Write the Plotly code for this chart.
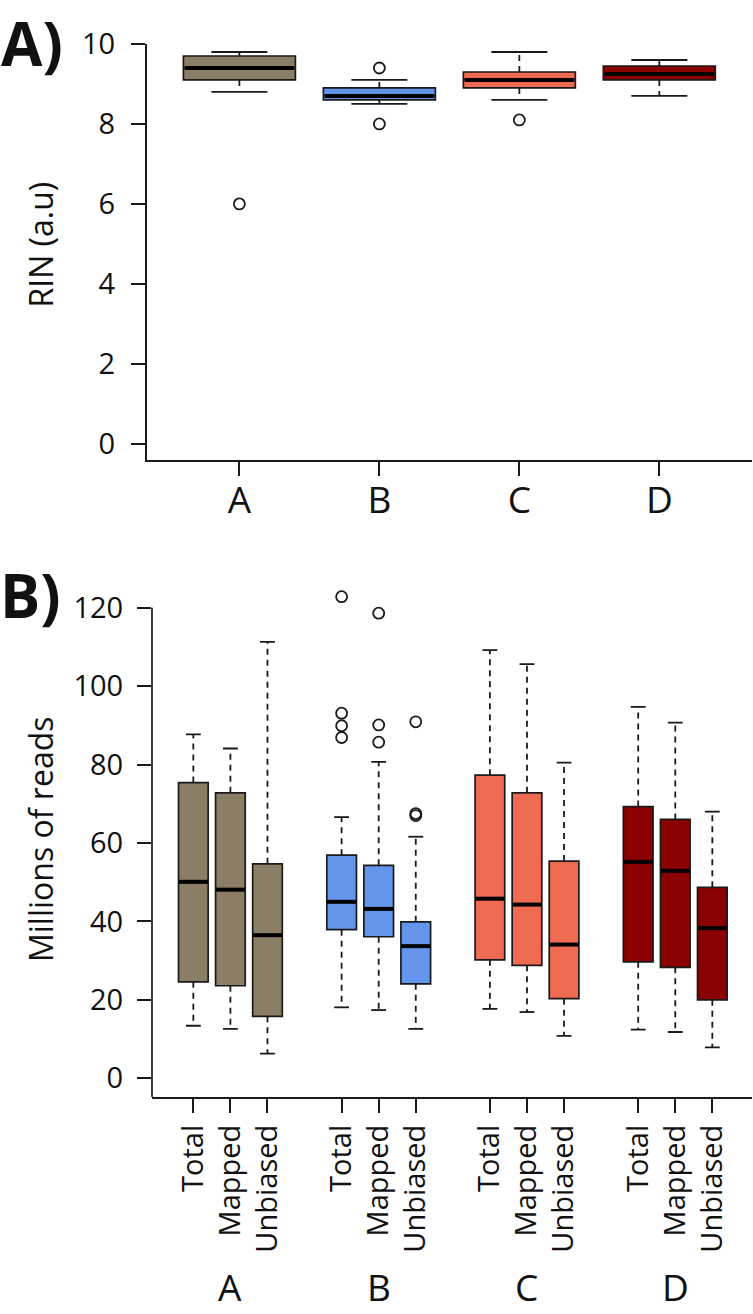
import plotly.graph_objects as go

# ---------------- data ----------------
groups = ["A", "B", "C", "D"]
colors = ["#8B7E66", "#6495ED", "#EE6A50", "#8B0000"]

# Panel A: RIN (a.u)
rin_low = [8.8, 8.5, 8.6, 8.7]
rin_q1 = [9.1, 8.6, 8.9, 9.1]
rin_med = [9.4, 8.7, 9.1, 9.25]
rin_q3 = [9.7, 8.9, 9.3, 9.45]
rin_high = [9.8, 9.1, 9.8, 9.6]
rin_outliers = [[6.0], [9.4, 8.0], [8.1], []]

# Panel B: millions of reads
read_types = ["Total", "Mapped", "Unbiased"]
reads_low = [[13.4, 12.6, 6.3], [18.1, 17.4, 12.6], [17.7, 16.9, 10.8], [12.4, 11.8, 7.9]]
reads_q1 = [[24.6, 23.6, 15.8], [37.9, 36.1, 24.1], [30.2, 28.8, 20.3], [29.7, 28.3, 20.0]]
reads_med = [[50.1, 48.1, 36.5], [45.0, 43.2, 33.7], [45.8, 44.3, 34.1], [55.2, 52.9, 38.3]]
reads_q3 = [[75.4, 72.8, 54.7], [56.9, 54.3, 39.9], [77.3, 72.8, 55.4], [69.3, 66.0, 48.7]]
reads_high = [[87.7, 84.1, 111.3], [66.6, 80.7, 61.6], [109.2, 105.6, 80.5], [94.7, 90.7, 68.0]]
reads_outliers = [
    [[], [], []],
    [[122.8, 93.1, 89.9, 86.9], [118.6, 90.1, 85.7], [90.9, 67.5, 67.0]],
    [[], [], []],
    [[], [], []],
]
reads_ticks = [0, 20, 40, 60, 80, 100, 120]

# ---------------- style ----------------
FONT = "Open Sans"
EDGE = "#1a1a1a"
BOX_W = 0.8
W, H = 753, 1314
YB_RANGE = [-4.84, 124.5]

fig = go.Figure()


def add_panel(pos_list, lo, q1, med, q3, hi, outl, col, xa, ya):
    fig.add_trace(go.Box(
        x=pos_list, q1=q1, median=med, q3=q3, lowerfence=q1, upperfence=q3,
        width=BOX_W, fillcolor=col, line=dict(color=EDGE, width=1.7),
        boxpoints=False, xaxis=xa, yaxis=ya, showlegend=False, hoverinfo="skip",
    ))
    wx, wy, cx, cy, mx, my, ox, oy = [], [], [], [], [], [], [], []
    for p, l, a, m, b, h, o in zip(pos_list, lo, q1, med, q3, hi, outl):
        wx += [p, p, None, p, p, None]
        wy += [b, h, None, a, l, None]
        cx += [p - BOX_W / 4, p + BOX_W / 4, None, p - BOX_W / 4, p + BOX_W / 4, None]
        cy += [h, h, None, l, l, None]
        mx += [p - BOX_W / 2 + 0.01, p + BOX_W / 2 - 0.01, None]
        my += [m, m, None]
        ox += [p] * len(o)
        oy += list(o)
    fig.add_trace(go.Scatter(x=wx, y=wy, mode="lines", xaxis=xa, yaxis=ya,
                             line=dict(color=EDGE, width=1.8, dash="6px,5px"),
                             showlegend=False, hoverinfo="skip"))
    fig.add_trace(go.Scatter(x=cx, y=cy, mode="lines", xaxis=xa, yaxis=ya,
                             line=dict(color=EDGE, width=1.8),
                             showlegend=False, hoverinfo="skip"))
    fig.add_trace(go.Scatter(x=mx, y=my, mode="lines", xaxis=xa, yaxis=ya,
                             line=dict(color="#000000", width=4),
                             showlegend=False, hoverinfo="skip"))
    if ox:
        fig.add_trace(go.Scatter(x=ox, y=oy, mode="markers", xaxis=xa, yaxis=ya,
                                 marker=dict(symbol="circle-open", size=11, color=EDGE,
                                             line=dict(width=1.8)),
                                 showlegend=False, hoverinfo="skip"))


# Panel A
for i, g in enumerate(groups):
    add_panel([i + 1], [rin_low[i]], [rin_q1[i]], [rin_med[i]], [rin_q3[i]],
              [rin_high[i]], [rin_outliers[i]], colors[i], "x", "y")

# Panel B
posB_all = []
for gi, g in enumerate(groups):
    pos = [4 * gi + k + 1 for k in range(len(read_types))]
    posB_all += pos
    add_panel(pos, reads_low[gi], reads_q1[gi], reads_med[gi], reads_q3[gi],
              reads_high[gi], reads_outliers[gi], colors[gi], "x2", "y2")

axis_common = dict(showline=True, linecolor=EDGE, linewidth=1.7, ticks="outside",
                   tickcolor=EDGE, tickwidth=1.7, ticklen=14, showgrid=False,
                   zeroline=False, automargin=False,
                   tickfont=dict(family=FONT, color="#111111"), fixedrange=True)

# px position of value v on panel B's y axis: 0 -> 1078.3, 120 -> 607.7
def b_px(v):
    return 1078.3 - v * (1078.3 - 607.7) / 120.0

fig.update_layout(
    template="none",
    width=W, height=H,
    margin=dict(l=0, r=0, t=0, b=0, pad=0),
    paper_bgcolor="white", plot_bgcolor="white",
    font=dict(family=FONT, color="#111111"),
    xaxis=dict(axis_common, domain=[146.7 / W, 752 / W], range=[0.338, 4.662],
               tickvals=[1, 2, 3, 4], ticktext=groups, anchor="y", ticklabelstandoff=-7,
               tickfont=dict(family=FONT, size=37, color="#111111")),
    yaxis=dict(axis_common, domain=[1 - 459.7 / H, 1 - 44 / H], range=[-0.4, 10],
               tickvals=[0, 2, 4, 6, 8, 10], anchor="x", ticklabelstandoff=10,
               tickfont=dict(family=FONT, size=29, color="#111111")),
    xaxis2=dict(axis_common, domain=[152 / W, 752 / W], range=[-0.115, 16.07],
                tickvals=posB_all, ticktext=read_types * len(groups), tickangle=-90,
                anchor="y2", tickfont=dict(family=FONT, size=29, color="#111111")),
    yaxis2=dict(axis_common, domain=[1 - b_px(YB_RANGE[0]) / H, 1 - b_px(YB_RANGE[1]) / H],
                range=YB_RANGE, showline=False,
                tickvals=reads_ticks, anchor="x2", ticklabelstandoff=8,
                tickfont=dict(family=FONT, size=29, color="#111111")),
)

# panel B y-axis line only spans up to the top tick (like R's axis())
fig.add_shape(type="line", xref="x2 domain", yref="y2", x0=0, x1=0,
              y0=YB_RANGE[0], y1=reads_ticks[-1], line=dict(color=EDGE, width=1.7))

ann = [
    dict(text="RIN (a.u)", x=40 / W, y=1 - 244.5 / H, textangle=-90, font_size=32,
         yanchor="middle"),
    dict(text="Millions of reads", x=40 / W, y=1 - 839 / H, textangle=-90, font_size=32,
         yanchor="middle"),
    dict(text="<b>A)</b>", x=32 / W, y=1.0, font_size=60, yanchor="top"),
    dict(text="<b>B)</b>", x=30 / W, y=1 - 595 / H, font_size=60, yanchor="middle"),
]
for a in ann:
    fig.add_annotation(xref="paper", yref="paper", showarrow=False, xanchor="center",
                       font=dict(family=FONT, color="#111111", size=a.pop("font_size")), **a)

for gi, g in enumerate(groups):
    fig.add_annotation(xref="x2", yref="paper", x=4 * gi + 2, y=0,
                       text=g, showarrow=False, xanchor="center", yanchor="bottom",
                       font=dict(family=FONT, size=37, color="#111111"))

fig.write_html("out.html", config={"displayModeBar": False},
               post_script="document.body.style.margin='0';document.body.style.overflow='hidden';")
